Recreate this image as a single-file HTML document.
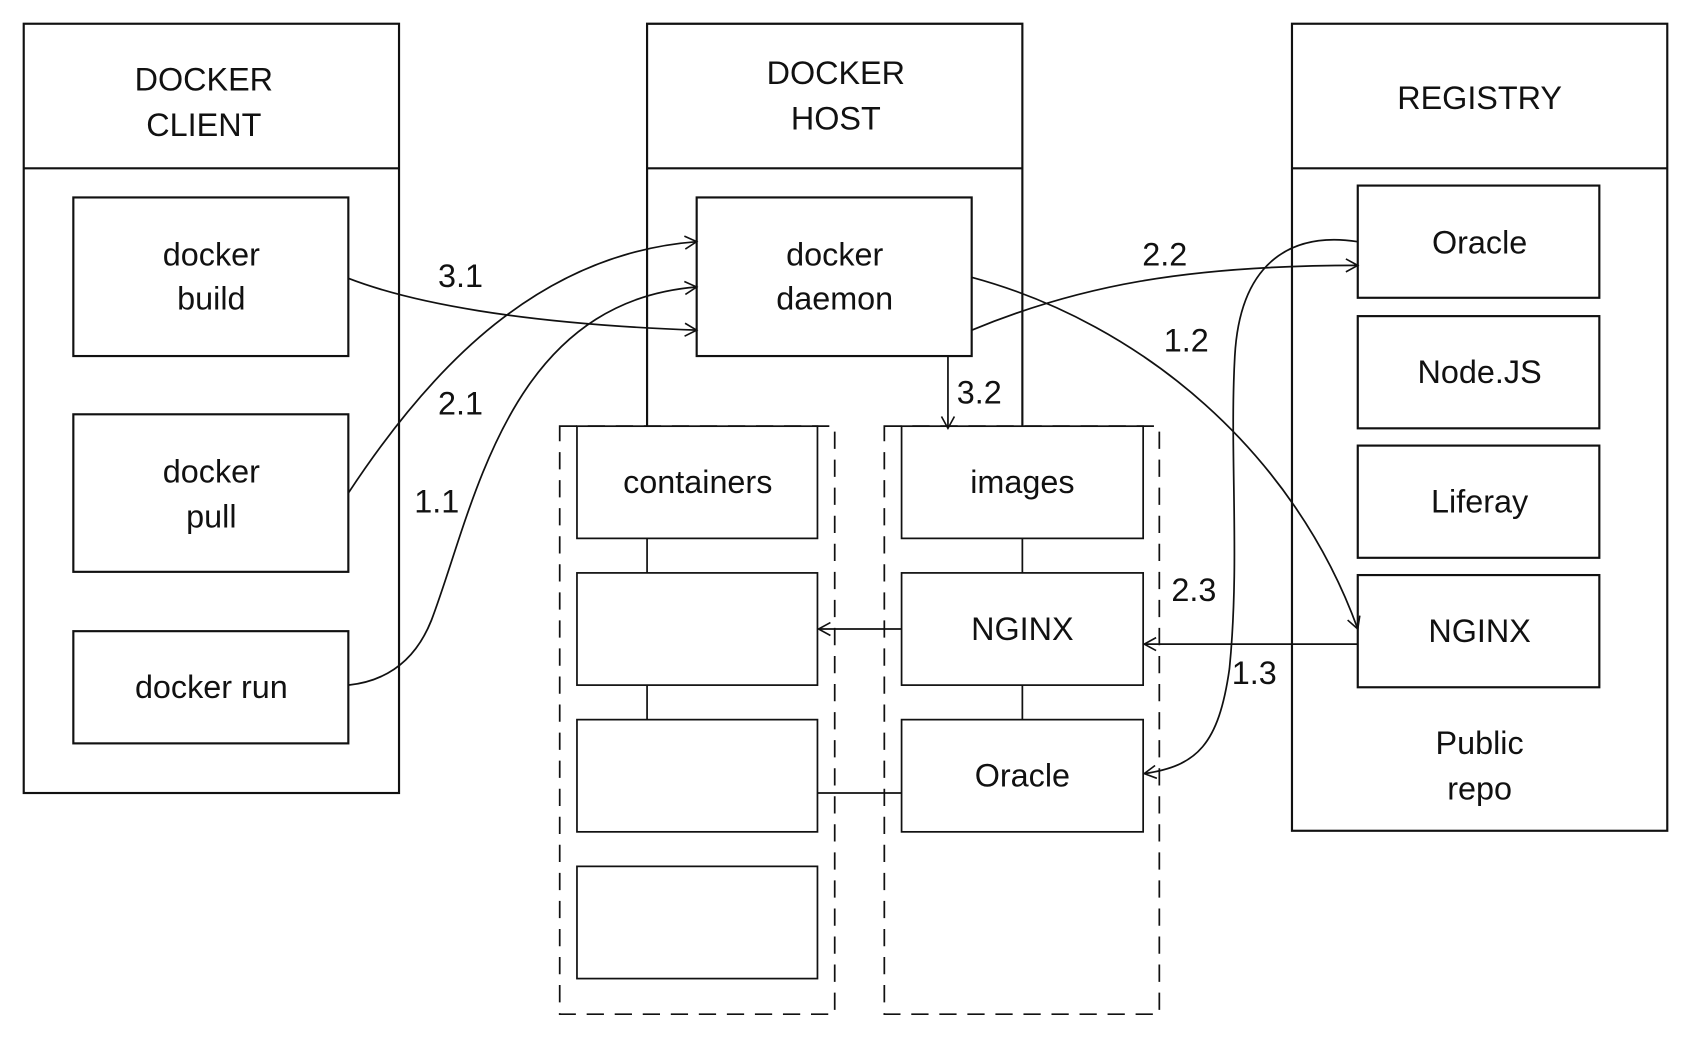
<!DOCTYPE html>
<html><head><meta charset="utf-8"><style>
html,body{margin:0;padding:0;background:#fff;}
svg{display:block;}
text{font-family:"Liberation Sans",sans-serif;font-size:30px;fill:#111;text-anchor:middle;}
</style></head><body>
<svg width="1691" height="1039" viewBox="0 0 1568 963" preserveAspectRatio="none" xmlns="http://www.w3.org/2000/svg">
<defs><marker id="a" markerWidth="14" markerHeight="14" refX="12" refY="7" orient="auto" markerUnits="userSpaceOnUse"><path d="M1,1 L12,7 L1,13" fill="none" stroke="#111" stroke-width="1.5"/></marker></defs>
<g fill="none" stroke="#111" stroke-width="2">
<rect x="22" y="22" width="348" height="713"/><line x1="22" y1="156" x2="370" y2="156"/>
<path d="M600,395 V22 H948 V395"/><line x1="600" y1="156" x2="948" y2="156"/>
<rect x="1198" y="22" width="348" height="748"/><line x1="1198" y1="156" x2="1546" y2="156"/>
<rect x="68" y="183" width="255" height="147"/>
<rect x="68" y="384" width="255" height="146"/>
<rect x="68" y="585" width="255" height="104"/>
<rect x="646" y="183" width="255" height="147"/>
<rect x="1259" y="172" width="224" height="104"/>
<rect x="1259" y="293" width="224" height="104"/>
<rect x="1259" y="413" width="224" height="104"/>
<rect x="1259" y="533" width="224" height="104"/>
</g>
<g fill="none" stroke="#111" stroke-width="1.6">
<rect x="519" y="395" width="255" height="545" stroke-dasharray="16,10"/>
<rect x="820" y="395" width="255" height="545" stroke-dasharray="16,10"/>
<rect x="535" y="395" width="223" height="104" fill="#fff"/>
<rect x="535" y="531" width="223" height="104"/>
<rect x="535" y="667" width="223" height="104"/>
<rect x="535" y="803" width="223" height="104"/>
<rect x="836" y="395" width="224" height="104" fill="#fff"/>
<rect x="836" y="531" width="224" height="104"/>
<rect x="836" y="667" width="224" height="104"/>
<line x1="600" y1="499" x2="600" y2="531"/><line x1="600" y1="635" x2="600" y2="667"/>
<line x1="948" y1="499" x2="948" y2="531"/><line x1="948" y1="635" x2="948" y2="667"/>
<line x1="836" y1="583" x2="759" y2="583" marker-end="url(#a)"/>
<line x1="836" y1="735" x2="758" y2="735"/>
<line x1="1259" y1="597" x2="1061" y2="597" marker-end="url(#a)"/>
<line x1="879" y1="330" x2="879" y2="397" marker-end="url(#a)"/>
<path d="M323,258 C380,280 480,300 646,306" marker-end="url(#a)"/>
<path d="M323,457 C400,340 500,235 646,224" marker-end="url(#a)"/>
<path d="M323,635 C370,630 390,600 400,575 C440,470 470,280 646,266" marker-end="url(#a)"/>
<path d="M901,306 C1000,265 1100,246 1259,246" marker-end="url(#a)"/>
<path d="M901,257 C1060,300 1200,420 1259,583" marker-end="url(#a)"/>
<path d="M1259,224 C1200,215 1150,240 1145,330 C1140,420 1150,520 1140,620 C1130,690 1110,710 1061,717" marker-end="url(#a)"/>
</g>
<text x="189" y="84">DOCKER</text><text x="189" y="126">CLIENT</text>
<text x="775" y="78">DOCKER</text><text x="775" y="120">HOST</text>
<text x="1372" y="101">REGISTRY</text>
<text x="196" y="246">docker</text><text x="196" y="287">build</text>
<text x="196" y="447">docker</text><text x="196" y="489">pull</text>
<text x="196" y="647">docker run</text>
<text x="774" y="246">docker</text><text x="774" y="287">daemon</text>
<text x="647" y="457">containers</text>
<text x="948" y="457">images</text>
<text x="948" y="593">NGINX</text>
<text x="948" y="729">Oracle</text>
<text x="1372" y="235">Oracle</text>
<text x="1372" y="355">Node.JS</text>
<text x="1372" y="475">Liferay</text>
<text x="1372" y="595">NGINX</text>
<text x="1372" y="699">Public</text><text x="1372" y="741">repo</text>
<text x="427" y="266">3.1</text>
<text x="427" y="384">2.1</text>
<text x="405" y="475">1.1</text>
<text x="908" y="374">3.2</text>
<text x="1080" y="246">2.2</text>
<text x="1100" y="326">1.2</text>
<text x="1107" y="557">2.3</text>
<text x="1163" y="634">1.3</text>
</svg>
</body></html>
